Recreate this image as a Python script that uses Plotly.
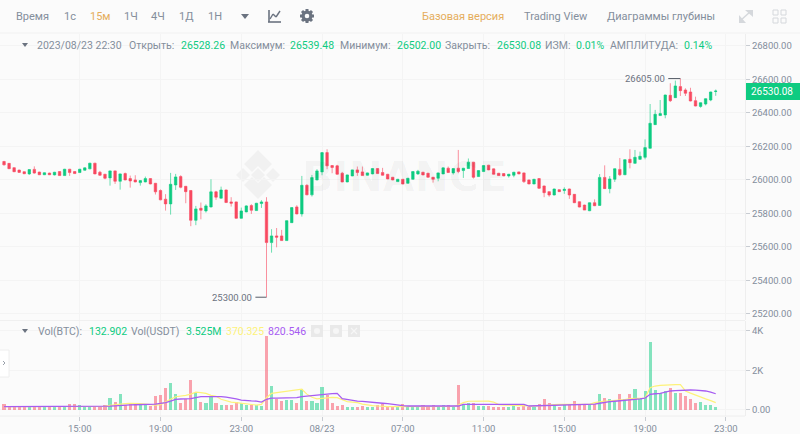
import pandas as pd
import plotly.graph_objects as go

# 15m candles, 2023/08/22 11:15 -> 2023/08/23 22:30
times = pd.date_range("2023-08-22 11:15", periods=142, freq="15min")

opens = [
    26110, 26099, 26073, 26059, 26049, 26036, 26063, 26047, 26031, 26041,
    26030, 26050, 26026, 26064, 26050, 26044, 26058, 26066, 26100, 26046,
    26034, 26012, 26054, 25992, 26038, 26008, 26000, 25984, 25988, 26008,
    25980, 25937, 25885, 25857, 25970, 26020, 25962, 25937, 25759, 25831,
    25815, 25839, 25929, 25891, 25940, 25869, 25869, 25771, 25809, 25847,
    25817, 25859, 25869, 25626, 25666, 25666, 25638, 25745, 25839, 25797,
    25968, 25911, 26000, 26048, 26163, 26086, 26084, 26040, 25988, 26024,
    26060, 26048, 26028, 26036, 26068, 26044, 26034, 26016, 25990, 26004,
    25980, 26004, 26036, 26046, 26040, 26016, 26010, 26036, 26070, 26042,
    26070, 26056, 26068, 26106, 26020, 26050, 26088, 26066, 26040, 26038,
    26024, 26028, 26048, 26042, 26000, 25976, 26008, 25964, 25930, 25910,
    25942, 25937, 25946, 25914, 25870, 25850, 25816, 25864, 25848, 26015,
    25948, 26004, 26063, 26031, 26123, 26099, 26123, 26135, 26189, 26330,
    26384, 26388, 26505, 26491, 26557, 26537, 26525, 26473, 26439, 26453,
    26477, 26528.26,
]
closes = [
    26090, 26067, 26049, 26045, 26037, 26062, 26041, 26031, 26043, 26031,
    26046, 26026, 26064, 26044, 26038, 26064, 26072, 26100, 26036, 26028,
    26010, 26054, 25992, 26036, 26000, 25994, 25988, 25996, 26008, 25976,
    25929, 25881, 25857, 25974, 26018, 25956, 25930, 25759, 25827, 25819,
    25845, 25929, 25897, 25940, 25865, 25861, 25771, 25815, 25845, 25819,
    25861, 25869, 25626, 25666, 25658, 25638, 25757, 25835, 25797, 25968,
    25911, 26014, 26054, 26163, 26084, 26074, 26034, 25988, 26030, 26060,
    26044, 26026, 26042, 26068, 26038, 26028, 26006, 26000, 26004, 25976,
    26010, 26050, 26052, 26030, 26016, 26004, 26042, 26072, 26044, 26068,
    26050, 26070, 26106, 26016, 26056, 26086, 26060, 26034, 26026, 26024,
    26034, 26046, 26036, 25990, 25976, 26004, 25950, 25924, 25910, 25946,
    25930, 25944, 25910, 25864, 25838, 25820, 25864, 25846, 26015, 25948,
    26006, 26067, 26031, 26121, 26103, 26135, 26141, 26193, 26338, 26392,
    26396, 26507, 26473, 26561, 26533, 26517, 26471, 26441, 26461, 26485,
    26525, 26530.08,
]
highs = [
    26114, 26101, 26075, 26061, 26051, 26064, 26081, 26049, 26045, 26043,
    26048, 26052, 26066, 26066, 26052, 26066, 26074, 26102, 26102, 26054,
    26036, 26056, 26056, 26038, 26044, 26026, 26028, 25998, 26020, 26010,
    25982, 25943, 25915, 26042, 26036, 26028, 25964, 25939, 25845, 25865,
    25855, 26004, 25935, 25960, 25942, 25897, 25871, 25835, 25849, 25855,
    25863, 25879, 25897, 25706, 25713, 25702, 25759, 25837, 25849, 26024,
    25974, 26030, 26064, 26165, 26183, 26088, 26090, 26048, 26032, 26062,
    26080, 26080, 26044, 26070, 26070, 26072, 26036, 26018, 26006, 26006,
    26012, 26052, 26060, 26048, 26042, 26018, 26044, 26074, 26080, 26070,
    26179, 26072, 26128, 26108, 26058, 26088, 26090, 26068, 26042, 26040,
    26036, 26048, 26050, 26044, 26002, 26006, 26010, 25966, 25932, 25948,
    25944, 25956, 25948, 25916, 25872, 25852, 25866, 25884, 26035, 26087,
    26023, 26069, 26131, 26123, 26183, 26179, 26169, 26242, 26453, 26418,
    26477, 26509, 26577, 26593, 26605, 26547, 26550, 26497, 26463, 26487,
    26527, 26539.48,
]
lows = [
    26086, 26065, 26047, 26043, 26035, 26030, 26037, 26029, 26029, 26029,
    26027, 26024, 26024, 26024, 26036, 26042, 26056, 26064, 26034, 26024,
    26004, 25966, 25976, 25942, 25998, 25954, 25986, 25966, 25986, 25974,
    25913, 25879, 25817, 25793, 25940, 25950, 25861, 25724, 25730, 25765,
    25805, 25835, 25881, 25889, 25863, 25841, 25769, 25769, 25807, 25797,
    25815, 25833, 25300, 25566, 25598, 25636, 25636, 25743, 25795, 25781,
    25909, 25901, 25998, 26028, 26064, 26040, 26032, 25986, 25986, 26022,
    26024, 26024, 26026, 26034, 26036, 26026, 26004, 25998, 25988, 25974,
    25978, 26002, 26030, 26028, 26014, 25984, 25992, 26034, 26042, 26032,
    26040, 26012, 26066, 26008, 26018, 26048, 26058, 26032, 26024, 26022,
    26014, 26016, 26034, 25982, 25974, 25974, 25946, 25897, 25900, 25908,
    25928, 25917, 25887, 25862, 25836, 25820, 25814, 25844, 25846, 25946,
    25920, 25988, 26023, 26029, 26069, 26097, 26119, 26123, 26187, 26328,
    26382, 26368, 26465, 26489, 26501, 26501, 26469, 26439, 26431, 26445,
    26470, 26502.00,
]
volumes = [
    300, 170, 170, 150, 150, 150, 200, 150, 150, 150,
    150, 150, 170, 300, 285, 270, 150, 170, 185, 185,
    270, 620, 420, 790, 235, 320, 300, 270, 270, 185,
    690, 770, 1110, 1360, 790, 370, 550, 1500, 840, 420,
    340, 670, 370, 250, 270, 270, 400, 335, 270, 235,
    235, 200, 3730, 1210, 540, 450, 500, 500, 370, 1040,
    450, 450, 370, 1180, 740, 370, 200, 270, 170, 170,
    170, 200, 150, 150, 270, 300, 170, 170, 170, 300,
    170, 170, 170, 235, 170, 270, 170, 235, 235, 170,
    1280, 285, 370, 335, 200, 200, 200, 135, 135, 170,
    170, 235, 170, 235, 170, 170, 300, 540, 370, 235,
    170, 235, 300, 450, 300, 300, 270, 285, 790, 600,
    540, 405, 790, 540, 800, 1075, 540, 975, 3460, 1000,
    840, 960, 1125, 840, 870, 700, 540, 370, 405, 235,
    235, 132.902,
]
vol_ma_fast = [
    170, 170, 170, 165, 165, 165, 170, 170, 165, 165,
    165, 165, 165, 170, 175, 180, 180, 175, 170, 170,
    185, 230, 270, 290, 320, 330, 335, 320, 300, 285,
    240, 270, 420, 540, 670, 690, 740, 800, 900, 880,
    840, 740, 690, 540, 450, 400, 370, 335, 300, 270,
    250, 285, 620, 840, 880, 920, 950, 980, 1040, 1050,
    800, 640, 560, 590, 620, 640, 620, 500, 420, 400,
    370, 300, 250, 220, 200, 175, 170, 170, 170, 170,
    170, 175, 175, 175, 180, 180, 180, 180, 175, 175,
    250, 370, 440, 450, 455, 455, 450, 400, 270, 250,
    240, 220, 200, 190, 190, 190, 200, 230, 250, 270,
    280, 285, 285, 285, 280, 280, 285, 370, 420, 450,
    465, 480, 490, 530, 570, 585, 595, 600, 1125, 1210,
    1240, 1260, 1280, 1285, 1280, 960, 850, 740, 650, 560,
    470, 370.325,
]
vol_ma_slow = [
    170, 170, 170, 170, 170, 170, 170, 170, 170, 170,
    170, 170, 170, 170, 170, 170, 170, 170, 175, 175,
    180, 190, 210, 235, 245, 255, 265, 270, 280, 285,
    300, 330, 370, 450, 540, 555, 565, 570, 620, 670,
    680, 685, 690, 670, 650, 620, 560, 500, 470, 460,
    450, 400, 540, 600, 600, 600, 600, 600, 620, 670,
    690, 710, 740, 770, 800, 830, 840, 570, 520, 480,
    450, 430, 400, 380, 360, 340, 320, 280, 240, 220,
    200, 200, 195, 195, 195, 195, 195, 195, 195, 200,
    200, 285, 285, 285, 285, 285, 285, 285, 285, 285,
    285, 285, 285, 285, 200, 205, 215, 225, 235, 240,
    245, 250, 255, 260, 265, 270, 280, 295, 340, 390,
    420, 440, 460, 480, 500, 525, 560, 600, 790, 820,
    840, 900, 960, 980, 1000, 1005, 1010, 1000, 985, 960,
    900, 820.546,
]

price_ticks = [25200, 25400, 25600, 25800, 26000, 26200, 26400, 26600, 26800]
vol_ticks = [0, 2000, 4000]
vol_labels = ["0.00", "2K", "4K"]
time_ticks = ["2023-08-22 15:00", "2023-08-22 19:00", "2023-08-22 23:00", "2023-08-23 03:00",
              "2023-08-23 07:00", "2023-08-23 11:00", "2023-08-23 15:00", "2023-08-23 19:00",
              "2023-08-23 23:00"]
time_labels = ["15:00", "19:00", "23:00", "08/23", "07:00", "11:00", "15:00", "19:00", "23:00"]

GREEN = "#0ecb81"
RED = "#f84960"
GREY = "#848e9c"
BG = "#fbfbfb"
GRID = "#f4f4f4"
FONT = "Roboto"


def px(x):
    return x / 800


def py(y):
    return 1 - y / 434


def label(x, y, text, color=GREY, size=10.5, anchor="left"):
    # annotations carry about 2px of padding
    return dict(xref="paper", yref="paper", x=px(x - 2), y=py(y + 0.5), text=text, showarrow=False,
                xanchor=anchor, yanchor="middle", font=dict(family=FONT, size=size, color=color))


def line(x0, y0, x1, y1, color, width=1):
    return dict(type="line", xref="paper", yref="paper", x0=px(x0), y0=py(y0), x1=px(x1), y1=py(y1),
                line=dict(color=color, width=width))


def poly(points, color, layer="above"):
    path = "M " + " L ".join(f"{px(a):.5f},{py(b):.5f}" for a, b in points) + " Z"
    return dict(type="path", xref="paper", yref="paper", path=path, fillcolor=color, line=dict(width=0), layer=layer)


def box(x0, y0, x1, y1, fill, border="rgba(0,0,0,0)"):
    return dict(type="rect", xref="paper", yref="paper", x0=px(x0), y0=py(y0), x1=px(x1), y1=py(y1),
                fillcolor=fill, line=dict(color=border, width=1))


def dot(cx, cy, r, fill):
    return dict(type="circle", xref="paper", yref="paper", x0=px(cx - r), y0=py(cy - r), x1=px(cx + r), y1=py(cy + r),
                fillcolor=fill, line=dict(width=0))


fig = go.Figure()
fig.add_trace(go.Candlestick(
    x=times, open=opens, high=highs, low=lows, close=closes,
    increasing=dict(line=dict(color="rgba(14,203,129,0.6)", width=1), fillcolor=GREEN),
    decreasing=dict(line=dict(color="rgba(248,73,96,0.6)", width=1), fillcolor=RED),
    whiskerwidth=0, xaxis="x", yaxis="y", showlegend=False,
))
bar_colors = ["rgba(14,203,129,0.5)" if c >= o else "rgba(248,73,96,0.5)" for o, c in zip(opens, closes)]
fig.add_trace(go.Bar(x=times, y=volumes, marker=dict(color=bar_colors, line=dict(width=0)),
                     width=15 * 60000 * 0.62, xaxis="x2", yaxis="y2", showlegend=False))
fig.add_trace(go.Scatter(x=times, y=vol_ma_fast, mode="lines", line=dict(color="#fdf27a", width=1.2),
                         xaxis="x2", yaxis="y2", showlegend=False))
fig.add_trace(go.Scatter(x=times, y=vol_ma_slow, mode="lines", line=dict(color="#a75cf2", width=1.3),
                         xaxis="x2", yaxis="y2", showlegend=False))

x_range = ["2023-08-22 11:03", "2023-08-23 23:57"]
x_common = dict(range=x_range, type="date", tickmode="array", tickvals=time_ticks, showgrid=True,
                gridcolor=GRID, gridwidth=1, zeroline=False, fixedrange=True)
y_common = dict(side="right", showgrid=True, gridcolor=GRID, zeroline=False, ticks="outside", ticklen=4,
                tickcolor="#c8ccd2", tickwidth=1, showline=True, linecolor="#eeeeee", linewidth=1,
                tickfont=dict(family=FONT, size=9.5, color=GREY))

annotations = [
    # toolbar
    label(16, 16, "Время", size=11), label(64, 16, "1с", size=11), label(90, 16, "15м", "#e5ad5b", 11),
    label(124, 16, "1Ч", size=11), label(151, 16, "4Ч", size=11), label(179, 16, "1Д", size=11),
    label(208, 16, "1Н", size=11),
    label(422, 16, "Базовая версия", "#e5ad5b", 11), label(524, 16, "Trading View", size=11),
    label(607, 16, "Диаграммы глубины", size=11),
    # ohlc row
    label(37, 45, "2023/08/23 22:30"), label(129, 45, "Открыть:"), label(181, 45, "26528.26", GREEN),
    label(230, 45, "Максимум:"), label(290, 45, "26539.48", GREEN), label(340, 45, "Минимум:"),
    label(397, 45, "26502.00", GREEN), label(445, 45, "Закрыть:"), label(497, 45, "26530.08", GREEN),
    label(545, 45, "ИЗМ:"), label(576, 45, "0.01%", GREEN), label(610, 45, "АМПЛИТУДА:"),
    label(684, 45, "0.14%", GREEN),
    # volume row
    label(38, 331, "Vol(BTC):"), label(89, 331, "132.902", GREEN), label(131, 331, "Vol(USDT)"),
    label(186, 331, "3.525M", GREEN), label(226, 331, "370.325", "#fdf27a"), label(268, 331, "820.546", "#a75cf2"),
    # high / low marks and the last price box
    dict(x="2023-08-23 20:09", y=26605, xref="x", yref="y", text="26605.00", showarrow=False, xanchor="right",
         yanchor="middle", xshift=-1, font=dict(family=FONT, size=9.5, color="#6b7280")),
    dict(x="2023-08-22 23:42", y=25300, xref="x", yref="y", text="25300.00", showarrow=False, xanchor="right",
         yanchor="middle", xshift=-1, font=dict(family=FONT, size=9.5, color="#6b7280")),
    label(774, 91, "26530.08", "#ffffff", 10, "center"),
    # watermark
    dict(xref="paper", yref="paper", x=px(300), y=py(177), text="BINANCE", showarrow=False, xanchor="left",
         yanchor="middle", font=dict(family="DejaVu Sans", size=41, color="rgba(0,0,0,0.035)", weight="bold")),
]

logo = "rgba(0,0,0,0.04)"
shapes = [
    line(0, 33, 800, 33, "#f1f1f1", 1),
    line(0, 320.5, 745, 320.5, "#f0f0f0", 1),
    line(0, 416, 745, 416, "#eeeeee", 1),
    # dropdown triangles
    poly([(241, 14), (249, 14), (245, 19)], "#6b7380"),
    poly([(22, 43), (28, 43), (25, 47)], "#6b7380"),
    poly([(22, 329), (28, 329), (25, 333)], "#6b7380"),
    # chart icon
    line(269, 10, 269, 22, "#6b7380", 1.6), line(268, 22, 281, 22, "#6b7380", 1.6),
    line(270, 19, 273, 14, "#6b7380", 1.4), line(273, 14, 276, 17, "#6b7380", 1.4),
    line(276, 17, 280, 11, "#6b7380", 1.4),
    # gear
    line(307, 9, 307, 23, "#6b7380", 3), line(300, 16, 314, 16, "#6b7380", 3),
    line(302, 11, 312, 21, "#6b7380", 3), line(302, 21, 312, 11, "#6b7380", 3),
    dot(307, 16, 5.5, "#6b7380"), dot(307, 16, 2.3, BG),
    # expand icon
    line(740, 21, 751, 11, "#d5d8dc", 1.5),
    poly([(745, 10), (753, 10), (753, 17)], "#d5d8dc"),
    poly([(739, 15), (739, 23), (746, 23)], "#d5d8dc"),
    # layout icon
    box(773, 10, 778, 15, "rgba(0,0,0,0)", "#d5d8dc"), box(781, 10, 786, 15, "rgba(0,0,0,0)", "#d5d8dc"),
    box(773, 18, 778, 23, "rgba(0,0,0,0)", "#d5d8dc"), box(781, 18, 786, 23, "rgba(0,0,0,0)", "#d5d8dc"),
    # eye, gear and close buttons of the volume row
    box(311, 325, 323, 337, "#e9e9e9"), dot(317, 331, 3, "#f6f6f6"),
    box(330, 325, 342, 337, "#e9e9e9"), dot(336, 331, 3, "#f6f6f6"),
    box(348, 325, 360, 337, "#e9e9e9"),
    line(351, 328, 357, 334, "#f6f6f6", 1.2), line(357, 328, 351, 334, "#f6f6f6", 1.2),
    # side button
    box(-3, 350, 9, 377, "#ffffff", "#eeeeee"),
    line(3, 361, 5, 363, "#9aa1ab", 1), line(5, 363, 3, 365, "#9aa1ab", 1),
    # last price box
    box(746, 83, 800, 100, GREEN),
    # high / low leaders
    dict(type="line", xref="x", yref="y", x0="2023-08-23 20:09", x1="2023-08-23 20:45", y0=26605, y1=26605,
         line=dict(color="#555b66", width=1)),
    dict(type="line", xref="x", yref="y", x0="2023-08-22 23:42", x1="2023-08-23 00:15", y0=25300, y1=25300,
         line=dict(color="#555b66", width=1)),
    # watermark logo
    poly([(258, 150), (272, 164), (264, 172), (258, 166), (252, 172), (244, 164)], logo, "below"),
    poly([(258, 199), (272, 185), (264, 177), (258, 183), (252, 177), (244, 185)], logo, "below"),
    poly([(236, 175), (243, 168), (250, 175), (243, 182)], logo, "below"),
    poly([(266, 175), (273, 168), (280, 175), (273, 182)], logo, "below"),
    poly([(251, 175), (258, 168), (265, 175), (258, 182)], logo, "below"),
]

fig.update_layout(
    width=800, height=434, margin=dict(l=0, r=0, t=0, b=0, autoexpand=False),
    paper_bgcolor=BG, plot_bgcolor="rgba(0,0,0,0)", bargap=0, barmode="overlay",
    font=dict(family=FONT, size=10, color=GREY), hovermode=False, showlegend=False,
    xaxis=dict(domain=[0, 745 / 800], anchor="y", showticklabels=False, ticks="", rangeslider=dict(visible=False), **x_common),
    xaxis2=dict(domain=[0, 745 / 800], anchor="y2", ticktext=time_labels, ticks="outside", ticklen=4,
                tickcolor="#c8ccd2", tickfont=dict(family=FONT, size=9.5, color=GREY), **x_common),
    yaxis=dict(domain=[py(320), py(34)], range=[25164, 26871], anchor="x", tickmode="array", tickvals=price_ticks,
               tickformat=".2f", **y_common),
    yaxis2=dict(domain=[py(416), py(321)], range=[-305, 4500], anchor="x2", tickmode="array", tickvals=vol_ticks,
                ticktext=vol_labels, **y_common),
    annotations=annotations, shapes=shapes,
)
# the page's default body margin would shift the chart by 8px
fig.write_html("out.html", config=dict(displayModeBar=False),
               post_script="document.body.style.margin='0';document.body.style.background='#fbfbfb';")
